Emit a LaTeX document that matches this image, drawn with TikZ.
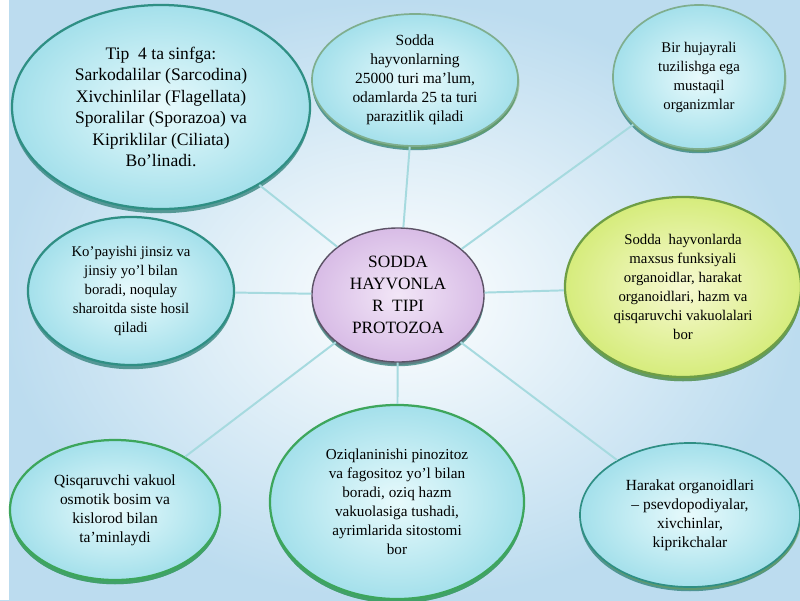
\documentclass[tikz,border=0pt]{standalone}
\usepackage{fontspec}
\setmainfont{Liberation Serif}
\usetikzlibrary{shapes.geometric,shadows}

\definecolor{bgedge}{HTML}{BCDCEF}
\definecolor{cyanin}{HTML}{E8FAFC}
\definecolor{cyanout}{HTML}{A4E0EB}
\definecolor{tealrim}{HTML}{2F8F84}
\definecolor{tealshade}{HTML}{2C7E76}
\definecolor{greenrim}{HTML}{3DA65C}
\definecolor{greyrim}{HTML}{7FAE8E}
\definecolor{limein}{HTML}{F7F9D2}
\definecolor{limeout}{HTML}{D6EC7C}
\definecolor{limerim}{HTML}{6E9E45}
\definecolor{lilacin}{HTML}{F2E6F7}
\definecolor{lilacout}{HTML}{D8BCE6}
\definecolor{lilacrim}{HTML}{5C5266}
\definecolor{linkcol}{HTML}{A6DADF}

\tikzset{
  bubble/.style={ellipse, draw=tealrim, line width=1.6pt, inner sep=0pt,
    align=center, inner color=cyanin, outer color=cyanout,
    drop shadow={shadow xshift=0pt, shadow yshift=-3pt, fill=tealshade, opacity=.75},
    font=\fontsize{10.5}{13.5}\selectfont},
  greenbubble/.style={bubble, draw=greenrim,
    drop shadow={shadow xshift=0pt, shadow yshift=-3pt, fill=greenrim, opacity=.75}},
  paleubble/.style={bubble, draw=greyrim, line width=1.2pt,
    drop shadow={shadow xshift=1pt, shadow yshift=-2pt, fill=limerim, opacity=.45}},
  limebubble/.style={bubble, draw=limerim, inner color=limein, outer color=limeout,
    drop shadow={shadow xshift=0pt, shadow yshift=-3pt, fill=limerim, opacity=.6}},
  hub/.style={bubble, draw=lilacrim, line width=1pt, inner color=lilacin, outer color=lilacout,
    drop shadow={shadow xshift=0pt, shadow yshift=-2pt, fill=lilacrim, opacity=.4},
    font=\fontsize{12.3}{15.5}\selectfont},
  link/.style={draw=linkcol, line width=1.4pt}
}

\begin{document}
\begin{tikzpicture}[x=0.025cm, y=-0.025cm]
    \useasboundingbox (0,0) rectangle (800,600);
    \clip (0,0) rectangle (800,600);
    % Background
    \shade[inner color=white, outer color=bgedge] (0,0) rectangle (800,600);
    \fill[white] (0,0) rectangle (9,600);
    % Centre
    \node[hub, minimum width=4.3cm, minimum height=3.35cm] (hub) at (398,295)
        {SODDA\\HAYVONLA\\R\ \ TIPI\\PROTOZOA};
    % Outer bubbles
    \node[bubble, minimum width=7.45cm, minimum height=5.1cm,
          font=\fontsize{12.5}{15.3}\selectfont] (tip) at (161,107)
        {Tip\ \ 4 ta sinfga:\\Sarkodalilar (Sarcodina)\\Xivchinlilar (Flagellata)\\
         Sporalilar (Sporazoa) va\\Kipriklilar (Ciliata)\\Bo’linadi.};
    \node[paleubble, minimum width=5.15cm, minimum height=3.3cm,
          font=\fontsize{11}{13.5}\selectfont] (turi) at (415,80)
        {Sodda\\hayvonlarning\\25000 turi ma’lum,\\odamlarda 25 ta turi\\parazitlik qiladi};
    \node[paleubble, minimum width=4.3cm, minimum height=3.6cm] (bir) at (699,77)
        {Bir hujayrali\\tuzilishga ega\\mustaqil\\organizmlar};
    \node[bubble, minimum width=5.15cm, minimum height=3.7cm] (kopay) at (131,291)
        {Ko’payishi jinsiz va\\jinsiy yo’l bilan\\boradi, noqulay\\sharoitda siste hosil\\qiladi};
    \node[limebubble, minimum width=5.9cm, minimum height=4.5cm] (organ) at (683,287)
        {Sodda\ \ hayvonlarda\\maxsus funksiyali\\organoidlar, harakat\\organoidlari, hazm va\\
         qisqaruvchi vakuolalari\\bor};
    \node[greenbubble, minimum width=5.25cm, minimum height=3.5cm,
          font=\fontsize{11}{13.5}\selectfont] (qisq) at (115,510)
        {Qisqaruvchi vakuol\\osmotik bosim va\\kislorod bilan\\ta’minlaydi};
    \node[greenbubble, minimum width=6.35cm, minimum height=4.85cm,
          font=\fontsize{10.8}{13.5}\selectfont] (oziq) at (397,502)
        {Oziqlaninishi pinozitoz\\va fagositoz yo’l bilan\\boradi, oziq hazm\\
         vakuolasiga tushadi,\\ayrimlarida sitostomi\\bor};
    \node[paleubble, draw=tealrim, minimum width=5.5cm, minimum height=3.6cm,
          font=\fontsize{11}{13.5}\selectfont] (harakat) at (690,515)
        {Harakat organoidlari\\– psevdopodiyalar,\\xivchinlar,\\kiprikchalar};
    % Links
    \foreach \n in {tip,turi,bir,kopay,organ,qisq,oziq,harakat}
        \draw[link] (hub) -- (\n);
\end{tikzpicture}
\end{document}
